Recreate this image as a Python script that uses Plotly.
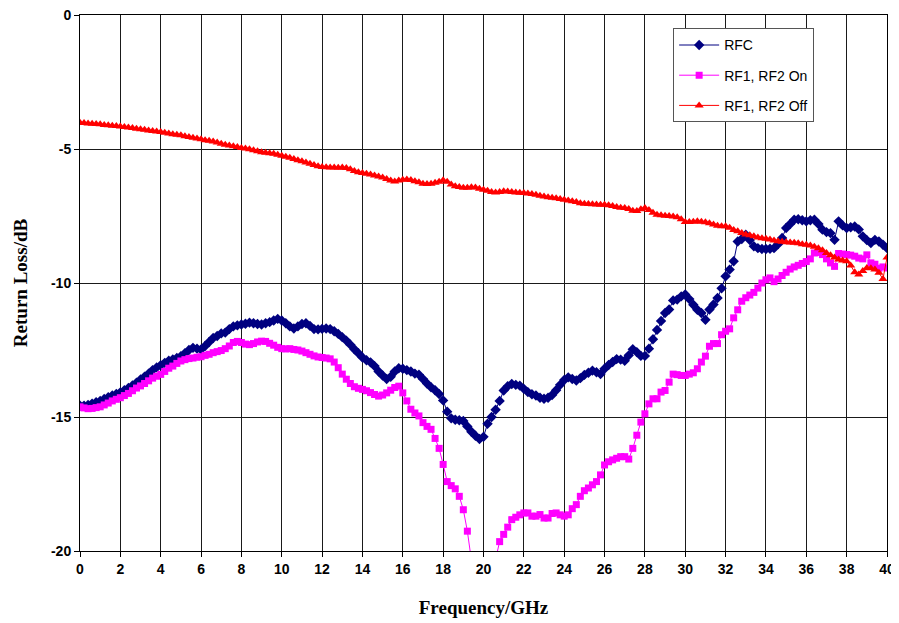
import plotly.graph_objects as go

# Frequency grid (GHz), 0.2 GHz step
freq = [round(0.2 * i, 1) for i in range(201)]

rfc = [
    -14.58, -14.58, -14.55, -14.50, -14.45, -14.40, -14.33, -14.26, -14.20, -14.14,
    -14.08, -14.00, -13.92, -13.82, -13.72, -13.60, -13.50, -13.38, -13.25, -13.15,
    -13.07, -12.98, -12.90, -12.85, -12.80, -12.73, -12.62, -12.50, -12.42, -12.45,
    -12.48, -12.35, -12.20, -12.05, -11.98, -11.88, -11.85, -11.72, -11.62, -11.58,
    -11.55, -11.52, -11.48, -11.50, -11.53, -11.55, -11.50, -11.46, -11.40, -11.34,
    -11.40, -11.50, -11.62, -11.70, -11.62, -11.53, -11.50, -11.60, -11.72, -11.73,
    -11.71, -11.70, -11.72, -11.80, -11.90, -12.02, -12.15, -12.30, -12.47, -12.62,
    -12.78, -12.88, -12.96, -13.10, -13.30, -13.45, -13.58, -13.50, -13.30, -13.18,
    -13.20, -13.25, -13.30, -13.38, -13.42, -13.58, -13.75, -13.89, -14.00, -14.14,
    -14.38, -14.80, -15.05, -15.10, -15.12, -15.15, -15.35, -15.55, -15.70, -15.82,
    -15.74, -15.25, -15.00, -14.73, -14.40, -14.01, -13.85, -13.77, -13.80, -13.83,
    -13.95, -14.07, -14.15, -14.20, -14.28, -14.32, -14.28, -14.18, -14.00, -13.80,
    -13.62, -13.52, -13.58, -13.64, -13.55, -13.43, -13.35, -13.27, -13.33, -13.40,
    -13.20, -13.06, -12.95, -12.84, -12.86, -12.90, -12.70, -12.47, -12.58, -12.72,
    -12.72, -12.45, -12.10, -11.75, -11.42, -11.12, -10.99, -10.65, -10.62, -10.50,
    -10.43, -10.60, -10.81, -11.00, -11.12, -11.37, -10.99, -10.80, -10.56, -10.20,
    -9.75, -9.50, -9.19, -8.45, -8.36, -8.20, -8.40, -8.63, -8.70, -8.73,
    -8.73, -8.72, -8.70, -8.55, -8.32, -7.95, -7.80, -7.64, -7.62, -7.66,
    -7.70, -7.66, -7.64, -7.80, -8.01, -8.10, -8.14, -8.39, -7.70, -7.85,
    -7.95, -7.92, -7.89, -8.00, -8.26, -8.40, -8.51, -8.39, -8.45, -8.57,
    -8.70,
]

rf_on = [
    -14.62, -14.66, -14.69, -14.68, -14.65, -14.62, -14.55, -14.48, -14.40, -14.34,
    -14.28, -14.20, -14.12, -14.02, -13.92, -13.84, -13.75, -13.65, -13.55, -13.48,
    -13.41, -13.30, -13.18, -13.10, -13.00, -12.91, -12.86, -12.82, -12.80, -12.77,
    -12.75, -12.70, -12.66, -12.60, -12.56, -12.52, -12.45, -12.35, -12.22, -12.18,
    -12.22, -12.28, -12.30, -12.26, -12.20, -12.17, -12.18, -12.25, -12.32, -12.40,
    -12.45, -12.46, -12.45, -12.48, -12.50, -12.54, -12.60, -12.66, -12.72, -12.76,
    -12.78, -12.80, -12.83, -12.95, -13.16, -13.40, -13.59, -13.75, -13.87, -13.93,
    -13.97, -14.02, -14.09, -14.16, -14.22, -14.18, -14.10, -14.00, -13.90, -13.85,
    -14.10, -14.40, -14.71, -14.85, -14.96, -15.21, -15.35, -15.46, -15.80, -16.17,
    -16.77, -17.41, -17.56, -17.68, -17.96, -18.46, -19.26, -20.40, -21.50, -22.50,
    -23.00, -22.30, -21.20, -20.30, -19.65, -19.38, -19.11, -18.83, -18.74, -18.65,
    -18.58, -18.58, -18.70, -18.70, -18.64, -18.77, -18.77, -18.60, -18.58, -18.65,
    -18.70, -18.65, -18.42, -18.27, -17.96, -17.75, -17.65, -17.53, -17.41, -17.16,
    -16.79, -16.67, -16.60, -16.54, -16.48, -16.48, -16.57, -16.17, -15.68, -15.19,
    -14.88, -14.51, -14.32, -14.32, -14.07, -14.01, -13.70, -13.40, -13.42, -13.45,
    -13.45, -13.40, -13.35, -13.20, -12.95, -12.73, -12.36, -12.26, -12.26, -11.93,
    -11.80, -11.71, -11.30, -11.00, -10.68, -10.55, -10.45, -10.35, -10.19, -10.00,
    -9.88, -9.81, -9.95, -9.85, -9.72, -9.60, -9.48, -9.40, -9.34, -9.27,
    -9.20, -9.10, -8.88, -8.86, -8.94, -9.10, -9.25, -9.38, -8.90, -8.92,
    -8.94, -8.96, -9.00, -9.07, -9.10, -8.95, -9.25, -9.30, -9.45, -9.40,
    -9.44,
]

rf_off = [
    -4.02, -4.03, -4.05, -4.06, -4.07, -4.08, -4.10, -4.11, -4.13, -4.14,
    -4.16, -4.18, -4.20, -4.22, -4.24, -4.26, -4.28, -4.31, -4.33, -4.35,
    -4.37, -4.39, -4.42, -4.45, -4.47, -4.49, -4.52, -4.55, -4.58, -4.61,
    -4.64, -4.67, -4.69, -4.72, -4.76, -4.80, -4.84, -4.87, -4.90, -4.93,
    -4.96, -4.98, -5.01, -5.05, -5.08, -5.12, -5.14, -5.16, -5.18, -5.21,
    -5.25, -5.29, -5.33, -5.37, -5.42, -5.46, -5.50, -5.55, -5.60, -5.64,
    -5.67, -5.68, -5.69, -5.69, -5.70, -5.69, -5.71, -5.76, -5.82, -5.87,
    -5.90, -5.92, -5.95, -5.99, -6.03, -6.06, -6.12, -6.18, -6.21, -6.18,
    -6.15, -6.14, -6.16, -6.20, -6.24, -6.30, -6.31, -6.30, -6.26, -6.22,
    -6.17, -6.22, -6.32, -6.39, -6.42, -6.45, -6.45, -6.43, -6.44, -6.48,
    -6.52, -6.56, -6.60, -6.62, -6.60, -6.58, -6.59, -6.60, -6.62, -6.63,
    -6.64, -6.66, -6.68, -6.71, -6.74, -6.77, -6.80, -6.82, -6.84, -6.87,
    -6.89, -6.92, -6.95, -6.98, -7.02, -7.04, -7.05, -7.06, -7.07, -7.08,
    -7.08, -7.10, -7.13, -7.16, -7.19, -7.20, -7.24, -7.30, -7.31, -7.25,
    -7.20, -7.28, -7.38, -7.45, -7.47, -7.49, -7.50, -7.52, -7.55, -7.62,
    -7.72, -7.72, -7.71, -7.70, -7.71, -7.73, -7.77, -7.82, -7.86, -7.88,
    -7.88, -7.94, -8.02, -8.07, -8.13, -8.19, -8.22, -8.26, -8.30, -8.33,
    -8.35, -8.38, -8.41, -8.44, -8.46, -8.48, -8.49, -8.50, -8.52, -8.55,
    -8.57, -8.60, -8.65, -8.70, -8.78, -8.88, -8.96, -9.05, -9.12, -9.16,
    -9.19, -9.35, -9.60, -9.68, -9.55, -9.44, -9.45, -9.50, -9.62, -9.85,
    -9.05,
]

series_names = ["RFC", "RF1, RF2 On", "RF1, RF2 Off"]
x_tick_vals = list(range(0, 41, 2))
x_tick_text = [str(v) for v in x_tick_vals]
y_tick_vals = [0, -5, -10, -15, -20]
y_tick_text = ["0", "-5", "-10", "-15", "-20"]

styles = [
    dict(color="#000080", symbol="diamond", size=8),
    dict(color="#FF00FF", symbol="square", size=7),
    dict(color="#FF0000", symbol="triangle-up", size=8),
]

fig = go.Figure()
for i, (name, ys) in enumerate(zip(series_names, [rfc, rf_on, rf_off])):
    st = styles[i]
    fig.add_trace(go.Scatter(
        x=freq, y=ys, name=name, mode="lines+markers",
        line=dict(color=st["color"], width=1),
        marker=dict(color=st["color"], symbol=st["symbol"], size=st["size"],
                    line=dict(width=0)),
        legendgroup=f"g{i}",
    ))

axis_font = dict(family="Liberation Sans, Arial, sans-serif", size=14, color="black")
title_font = dict(family="Liberation Serif, Times New Roman, serif", size=19, color="black")

fig.update_layout(
    width=891, height=615,
    margin=dict(l=72, r=12, t=7, b=72),
    paper_bgcolor="white", plot_bgcolor="white",
    showlegend=True,
    legend=dict(
        x=0.735, y=0.975, xanchor="left", yanchor="top",
        bgcolor="white", bordercolor="#555555", borderwidth=1,
        font=dict(family="Liberation Sans, Arial, sans-serif", size=14, color="black"),
        tracegroupgap=9, itemwidth=40,
    ),
    xaxis=dict(
        range=[0, 40], tickvals=x_tick_vals, ticktext=x_tick_text,
        showgrid=True, gridcolor="#1a1a1a", gridwidth=1,
        showline=True, linecolor="black", linewidth=1, mirror=True,
        ticks="outside", ticklen=5, tickcolor="black",
        tickfont=dict(axis_font, weight="bold"),
        ticklabeloverflow="allow",
        title=dict(text="<b>Frequency/GHz</b>", font=title_font, standoff=24),
        zeroline=False, automargin=False,
    ),
    yaxis=dict(
        range=[-20, 0], tickvals=y_tick_vals, ticktext=y_tick_text,
        showgrid=True, gridcolor="#1a1a1a", gridwidth=1,
        showline=True, linecolor="black", linewidth=1, mirror=True,
        ticks="outside", ticklen=5, tickcolor="black",
        tickfont=dict(axis_font, weight="bold"),
        ticklabeloverflow="allow",
        title=dict(text="<b>Return Loss/dB</b>", font=title_font, standoff=18),
        zeroline=False, automargin=False,
    ),
)

fig.write_html("out.html")
